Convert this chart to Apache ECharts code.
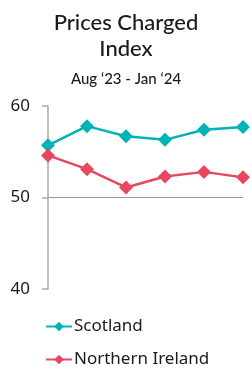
<!DOCTYPE html>
<html><head><meta charset="utf-8">
<script src="https://cdn.jsdelivr.net/npm/echarts@6/dist/echarts.min.js"></script>
<style>html,body{margin:0;padding:0;background:#fff}#c{width:252px;height:370px}</style>
</head><body><div id="c"></div>
<script>
const categories = ['Aug', 'Sep', 'Oct', 'Nov', 'Dec', 'Jan'];
const scotland = [55.7, 57.8, 56.7, 56.3, 57.4, 57.7];
const northernIreland = [54.6, 53.1, 51.1, 52.3, 52.8, 52.2];
const yTicks = [40, 50, 60];

const legendText = { fontFamily: 'Noto Sans', fontSize: 17, color: '#1a1a1a', padding: [0, 0, 0, -3] };
const chart = echarts.init(document.getElementById('c'));
chart.setOption({
  animation: false,
  title: [
    { text: 'Prices Charged\nIndex', left: 'center', top: 5,
      textStyle: { fontFamily: 'Lato', fontSize: 22, fontWeight: 500, color: '#1a1a1a', lineHeight: 26 } },
    { text: 'Aug \u201823 - Jan \u201824', left: 'center', top: 67,
      textStyle: { fontFamily: 'Lato', fontSize: 15, fontWeight: 500, color: '#1a1a1a' } }
  ],
  grid: { left: 48, right: 9, top: 106, bottom: 81 },
  xAxis: { type: 'category', data: categories, boundaryGap: false, show: false },
  yAxis: {
    type: 'value', min: yTicks[0], max: yTicks[yTicks.length - 1], interval: 10,
    axisLine: { show: true, lineStyle: { color: '#aaaaaa', width: 1.5 } },
    axisTick: { show: true, length: 6, lineStyle: { color: '#aaaaaa', width: 1.5 } },
    axisLabel: { color: '#1a1a1a', fontSize: 17, fontFamily: 'Noto Sans', margin: 18 },
    splitLine: { show: true, lineStyle: { color: ['transparent', '#999999', 'transparent'], width: 1.2 } }
  },
  legend: [
    { left: 40, top: 313, itemWidth: 26, itemHeight: 12, textStyle: legendText, data: ['Scotland'] },
    { left: 40, top: 346, itemWidth: 26, itemHeight: 12, textStyle: legendText, data: ['Northern Ireland'] }
  ],
  series: [
    { name: 'Scotland', type: 'line', data: scotland, symbol: 'diamond', symbolSize: 14,
      color: '#00B3B6', lineStyle: { width: 2.5 } },
    { name: 'Northern Ireland', type: 'line', data: northernIreland, symbol: 'diamond', symbolSize: 14,
      color: '#E8475F', lineStyle: { width: 2.5 } }
  ]
});
</script></body></html>
